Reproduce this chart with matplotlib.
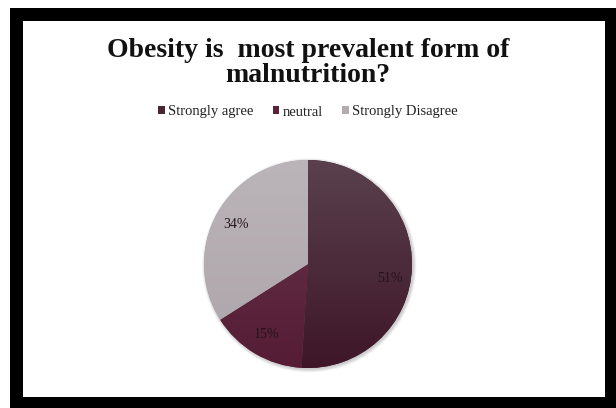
import numpy as np
import matplotlib.pyplot as plt
from matplotlib.patches import Rectangle, Patch, Circle
from matplotlib.colors import LinearSegmentedColormap

labels = ["Strongly agree", "neutral", "Strongly Disagree"]
shares = [51, 15, 34]

# top / bottom shade of each slice
top_colors = ["#5a414d", "#66374c", "#bbb4b8"]
bottom_colors = ["#3e1628", "#561c35", "#aca4a9"]
legend_colors = ["#4a2634", "#5a2339", "#b3abb0"]

W, H = 616, 408
fig = plt.figure(figsize=(W / 100, H / 100), dpi=100)
fig.patch.set_facecolor("white")


def px_rect(x0, y0, x1, y1, **kw):
    # rectangle given in pixel coords measured from the top-left corner
    return Rectangle((x0 / W, 1 - y1 / H), (x1 - x0) / W, (y1 - y0) / H,
                     transform=fig.transFigure, **kw)


fig.patches.append(px_rect(10, 8, 616, 408, facecolor="black", edgecolor="none", zorder=-2))
fig.patches.append(px_rect(23, 21, 605, 397, facecolor="white", edgecolor="none", zorder=-1))

serif = ["Liberation Serif", "DejaVu Serif"]

fig.text(0.5, 1 - 63 / H, "Obesity is  most prevalent form of\nmalnutrition?",
         ha="center", va="center", fontsize=20, fontweight="bold",
         family=serif, linespacing=0.98, color="#111111")

handles = [Patch(facecolor=c, edgecolor="none") for c in legend_colors]
fig.legend(handles, labels, loc="center", bbox_to_anchor=(0.5, 1 - 112 / H),
           ncol=3, frameon=False, prop={"family": serif, "size": 10.5},
           handlelength=0.45, handleheight=0.45, handletextpad=0.25,
           columnspacing=1.3, labelcolor="#222222")

# pie: centre (308, 264) px, radius 104 px
cx, cy, r, half = 308, 264, 104, 112
ax = fig.add_axes([(cx - half) / W, 1 - (cy + half) / H, 2 * half / W, 2 * half / H])
ax.set_zorder(2)
lim = half / r

# soft shadow under the pie
for k in range(6):
    ax.add_patch(Circle((0.012, -0.012), 1 + 0.006 * k, facecolor="#000000",
                        alpha=0.035, edgecolor="none", zorder=0))

wedges, texts, autotexts = ax.pie(
    shares, startangle=90, counterclock=False, colors=bottom_colors,
    autopct="%d%%", pctdistance=0.79, radius=1,
    wedgeprops={"linewidth": 0, "edgecolor": "none"},
    textprops={"family": serif, "fontsize": 10, "color": "#241419"})

grad = np.linspace(1, 0, 256).reshape(-1, 1)
for w, c_top, c_bot in zip(wedges, top_colors, bottom_colors):
    cmap = LinearSegmentedColormap.from_list("g", [c_bot, c_top])
    im = ax.imshow(grad, cmap=cmap, extent=[-1, 1, -1, 1], aspect="auto",
                   origin="upper", vmin=0, vmax=1, zorder=2)
    im.set_clip_path(w)

for t in autotexts:
    t.set_zorder(5)
# the big slice's label sits a little below the slice's mid line
x0, y0 = autotexts[0].get_position()
autotexts[0].set_position((x0, y0 - 0.11))

ax.set_xlim(-lim, lim)
ax.set_ylim(-lim, lim)
ax.set_aspect("equal")
ax.axis("off")

fig.savefig("out.png", dpi=100, facecolor="white")
